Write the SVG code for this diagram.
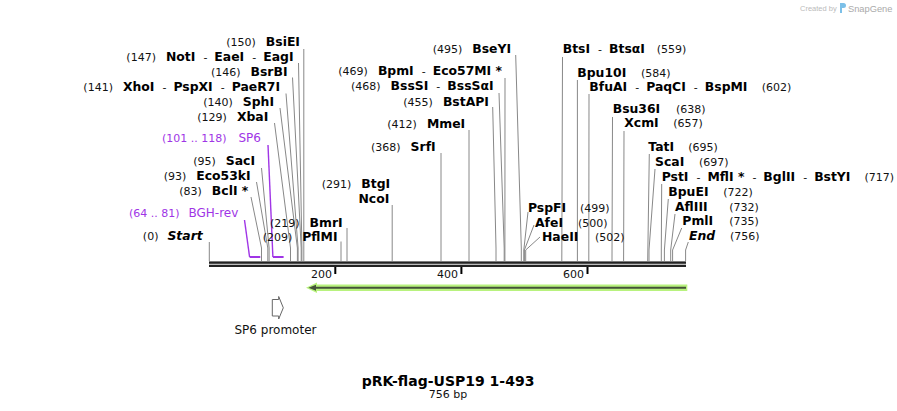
<svg xmlns="http://www.w3.org/2000/svg" width="897" height="411" viewBox="0 0 897 411">
<style>
text{font-family:"DejaVu Sans",Verdana,sans-serif;font-size:11px;fill:#111}
.b{font-weight:bold;font-size:12.4px;fill:#000}
.bi{font-weight:bold;font-style:italic;font-size:12.4px;fill:#000}
.p{fill:#a035e6}
.p12{font-size:12px}
.cn{fill:none;stroke:#888;stroke-width:1}
.pc{fill:none;stroke:#a035e6;stroke-width:1.4}
.pb{fill:none;stroke:#a035e6;stroke-width:2}
.tick{stroke:#000;stroke-width:2}
.tk{font-size:11px;fill:#111}
</style>
<rect width="897" height="411" fill="#fff"/>

<g id="logo">
<text x="800" y="11" style="font-family:'Liberation Sans',Arial,sans-serif;font-size:7.5px;fill:#bbb">Created by</text>
<path d="M840,3 h3.5 q2.5,0 2.5,2.5 q0,2.5 -2.5,2.5 h-1.5 v5 h-2 z" fill="#7cc0e8"/>
<text x="848" y="12" style="font-family:'Liberation Sans',Arial,sans-serif;font-size:9.3px;fill:#aaa">SnapGene</text>
</g>

<g id="connectors">
<polyline class="cn" points="303.8,49 303.8,261"/>
<polyline class="cn" points="298.5,63 301.9,248 301.9,261"/>
<polyline class="cn" points="292.5,77.5 301.2,248 301.2,261"/>
<polyline class="cn" points="286,93.5 298.1,248 298.1,261"/>
<polyline class="cn" points="280,108 297.4,248 297.4,261"/>
<polyline class="cn" points="274.5,123 290.5,248 290.5,261"/>
<polyline class="cn" points="261.5,168 269.1,248 269.1,261"/>
<polyline class="cn" points="256.5,182 267.8,248 267.8,261"/>
<polyline class="cn" points="251,197 261.5,248 261.5,261"/>
<polyline class="cn" points="209.3,242 209.3,261"/>
<polyline class="cn" points="341,241.5 341,261"/>
<polyline class="cn" points="347,228 347,261"/>
<polyline class="cn" points="392.2,205 392.2,261"/>
<polyline class="cn" points="441,153 441,261"/>
<polyline class="cn" points="469,130 469,261"/>
<polyline class="cn" points="492.7,107 496,248 496,261"/>
<polyline class="cn" points="499,93 504.2,248 504.2,261"/>
<polyline class="cn" points="505,78 504.9,248 504.9,261"/>
<polyline class="cn" points="515.7,55 521.3,248 521.3,261"/>
<polyline class="cn" points="528,212 523.8,250 523.8,261"/>
<polyline class="cn" points="534,225 524.4,250 524.4,261"/>
<polyline class="cn" points="540,237 525.7,250 525.7,261"/>
<polyline class="cn" points="562.5,57 561.8,261"/>
<polyline class="cn" points="577.4,80 577.4,261"/>
<polyline class="cn" points="589,94 588.8,261"/>
<polyline class="cn" points="612.5,117 612,261"/>
<polyline class="cn" points="624,131 623.6,261"/>
<polyline class="cn" points="649.3,154 647.7,261"/>
<polyline class="cn" points="655,169 649,250 649,261"/>
<polyline class="cn" points="661.7,184 661.3,250 661.3,261"/>
<polyline class="cn" points="668.3,199 664.4,250 664.4,261"/>
<polyline class="cn" points="675,214 670.7,250 670.7,261"/>
<polyline class="cn" points="681.7,228 672.6,250 672.6,261"/>
<polyline class="cn" points="688.3,242 685.6,250 685.6,261"/>
<polyline class="pc" points="268,145 272.9,257"/>
<polyline class="pb" points="272.9,257 283.6,257"/>
<polyline class="pc" points="244.5,220 249.6,257"/>
<polyline class="pb" points="249.6,257 260.3,257"/>
</g>

<g id="backbone">
<rect x="209" y="261.4" width="477" height="2.4" fill="#222"/>
<rect x="209" y="264.7" width="477" height="2.3" fill="#222"/>
<line class="tick" x1="335.3" y1="267" x2="335.3" y2="274"/>
<line class="tick" x1="461.4" y1="267" x2="461.4" y2="274"/>
<line class="tick" x1="587.5" y1="267" x2="587.5" y2="274"/>
<text class="tk" x="332" y="277.5" text-anchor="end">200</text>
<text class="tk" x="458" y="277.5" text-anchor="end">400</text>
<text class="tk" x="584" y="277.5" text-anchor="end">600</text>
</g>

<g id="feature-green">
<path d="M306,287.8 L317,282.5 L317,284.6 L687.3,284.6 L687.3,291 L317,291 L317,293.1 Z" fill="#b8f27e"/>
<line x1="314" y1="287.8" x2="686" y2="287.8" stroke="#45533a" stroke-width="2"/>
<path d="M308.5,287.8 L316,284.8 L316,290.8 Z" fill="#45533a"/>
</g>

<g id="sp6-promoter">
<path d="M272.3,299.5 H278.7 V296.5 L283.3,307.8 L278.7,319 V316 H272.3 Z" fill="#fff" stroke="#666" stroke-width="1"/>
<text x="275.5" y="333.5" text-anchor="middle" style="font-size:12px">SP6 promoter</text>
</g>

<g id="n-BsiEI"><text x="300" y="46" text-anchor="end">(150)<tspan class="b" dx="10">BsiEI</tspan></text></g>
<g id="n-NotI"><text x="293.5" y="60.5" text-anchor="end">(147)<tspan class="b" dx="10">NotI</tspan><tspan dx="8">-</tspan><tspan class="b" dx="7">EaeI</tspan><tspan dx="8">-</tspan><tspan class="b" dx="7">EagI</tspan></text></g>
<g id="n-BsrBI"><text x="287.5" y="75.5" text-anchor="end">(146)<tspan class="b" dx="10">BsrBI</tspan></text></g>
<g id="n-XhoI"><text x="280" y="90.5" text-anchor="end">(141)<tspan class="b" dx="10">XhoI</tspan><tspan dx="8">-</tspan><tspan class="b" dx="7">PspXI</tspan><tspan dx="8">-</tspan><tspan class="b" dx="7">PaeR7I</tspan></text></g>
<g id="n-SphI"><text x="274" y="105.5" text-anchor="end">(140)<tspan class="b" dx="10">SphI</tspan></text></g>
<g id="n-XbaI"><text x="268.3" y="120.5" text-anchor="end">(129)<tspan class="b" dx="10">XbaI</tspan></text></g>
<g id="n-SP6"><text class="p" x="261" y="142.3" text-anchor="end">(101 .. 118)<tspan class="p12" dx="12">SP6</tspan></text></g>
<g id="n-SacI"><text x="255" y="165" text-anchor="end">(95)<tspan class="b" dx="10">SacI</tspan></text></g>
<g id="n-Eco53kI"><text x="250.7" y="180" text-anchor="end">(93)<tspan class="b" dx="10">Eco53kI</tspan></text></g>
<g id="n-BclI"><text x="248.3" y="195" text-anchor="end">(83)<tspan class="b" dx="10">BclI *</tspan></text></g>
<g id="n-BGH-rev"><text class="p" x="238.3" y="216.7" text-anchor="end">(64 .. 81)<tspan class="p12" dx="9">BGH-rev</tspan></text></g>
<g id="n-Start"><text x="202.7" y="240.3" text-anchor="end">(0)<tspan class="bi" dx="9">Start</tspan></text></g>

<g id="n-BmrI"><text x="270" y="226.5">(219)<tspan class="b" dx="10">BmrI</tspan></text></g>
<g id="n-PflMI"><text x="262.7" y="240.5">(209)<tspan class="b" dx="10">PflMI</tspan></text></g>
<g id="n-BtgI"><text x="321.7" y="188">(291)<tspan class="b" dx="10">BtgI</tspan></text><text class="b" x="389.3" y="203" text-anchor="end">NcoI</text></g>
<g id="n-SrfI"><text x="371" y="150.5">(368)<tspan class="b" dx="10">SrfI</tspan></text></g>
<g id="n-MmeI"><text x="387.3" y="127.5">(412)<tspan class="b" dx="10">MmeI</tspan></text></g>
<g id="n-BstAPI"><text x="403.3" y="105.5">(455)<tspan class="b" dx="10">BstAPI</tspan></text></g>
<g id="n-BssSI"><text x="351" y="90">(468)<tspan class="b" dx="10">BssSI</tspan><tspan dx="8">-</tspan><tspan class="b" dx="7">BssSαI</tspan></text></g>
<g id="n-BpmI"><text x="338.3" y="75">(469)<tspan class="b" dx="10">BpmI</tspan><tspan dx="8">-</tspan><tspan class="b" dx="7">Eco57MI *</tspan></text></g>
<g id="n-BseYI"><text x="432.7" y="52.5">(495)<tspan class="b" dx="10">BseYI</tspan></text></g>
<g id="n-PspFI"><text x="528" y="211.5"><tspan class="b">PspFI</tspan><tspan x="580">(499)</tspan></text></g>
<g id="n-AfeI"><text x="535" y="226.5"><tspan class="b">AfeI</tspan><tspan x="578">(500)</tspan></text></g>
<g id="n-HaeII"><text x="542" y="241"><tspan class="b">HaeII</tspan><tspan x="595">(502)</tspan></text></g>

<g id="n-BtsI"><text x="562.7" y="52.7"><tspan class="b">BtsI</tspan><tspan dx="8">-</tspan><tspan class="b" dx="7">BtsαI</tspan><tspan x="656.7">(559)</tspan></text></g>
<g id="n-Bpu10I"><text x="577.3" y="76.7"><tspan class="b">Bpu10I</tspan><tspan x="641">(584)</tspan></text></g>
<g id="n-BfuAI"><text x="589.3" y="90.7"><tspan class="b">BfuAI</tspan><tspan dx="8">-</tspan><tspan class="b" dx="7">PaqCI</tspan><tspan dx="8">-</tspan><tspan class="b" dx="7">BspMI</tspan><tspan x="761.7">(602)</tspan></text></g>
<g id="n-Bsu36I"><text x="612.7" y="113.3"><tspan class="b">Bsu36I</tspan><tspan x="676">(638)</tspan></text></g>
<g id="n-XcmI"><text x="624.3" y="127.3"><tspan class="b">XcmI</tspan><tspan x="673.3">(657)</tspan></text></g>
<g id="n-TatI"><text x="648.3" y="150.7"><tspan class="b">TatI</tspan><tspan x="688.3">(695)</tspan></text></g>
<g id="n-ScaI"><text x="655" y="165.7"><tspan class="b">ScaI</tspan><tspan x="699">(697)</tspan></text></g>
<g id="n-PstI"><text x="661.7" y="180.7"><tspan class="b">PstI</tspan><tspan dx="8">-</tspan><tspan class="b" dx="7">MflI *</tspan><tspan dx="8">-</tspan><tspan class="b" dx="7">BglII</tspan><tspan dx="8">-</tspan><tspan class="b" dx="7">BstYI</tspan><tspan dx="14">(717)</tspan></text></g>
<g id="n-BpuEI"><text x="668.3" y="195.7"><tspan class="b">BpuEI</tspan><tspan x="723.3">(722)</tspan></text></g>
<g id="n-AflIII"><text x="675" y="210.7"><tspan class="b">AflIII</tspan><tspan x="729.3">(732)</tspan></text></g>
<g id="n-PmlI"><text x="682.3" y="225"><tspan class="b">PmlI</tspan><tspan x="729.3">(735)</tspan></text></g>
<g id="n-End"><text x="689" y="240.3"><tspan class="bi">End</tspan><tspan x="730">(756)</tspan></text></g>

<g id="title">
<text x="448" y="385.5" text-anchor="middle" style="font-size:14px;font-weight:bold;fill:#000">pRK-flag-USP19 1-493</text>
<text x="448" y="398" text-anchor="middle" style="font-size:11px">756 bp</text>
</g>
</svg>
